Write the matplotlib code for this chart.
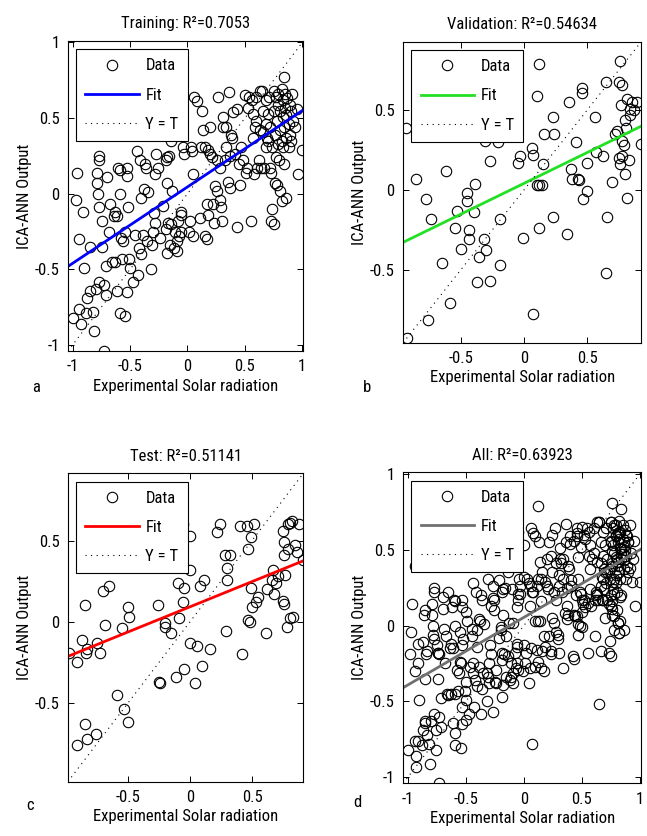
import numpy as np
import matplotlib
matplotlib.use("Agg")
import matplotlib.pyplot as plt
from matplotlib.lines import Line2D
from matplotlib import font_manager

# ---------------- data ----------------
train_x = [-1.00, -0.97, -0.96, -0.94, -0.93, -0.94, -0.91, -0.90, -0.88, -0.87,
           -0.85, -0.85, -0.82, -0.81, -0.80, -0.79, -0.79, -0.78, -0.77, -0.77,
           -0.77, -0.77, -0.74, -0.74, -0.73, -0.73, -0.71, -0.71, -0.70, -0.68,
           -0.67, -0.66, -0.64, -0.63, -0.63, -0.61, -0.61, -0.60, -0.59, -0.59,
           -0.59, -0.58, -0.57, -0.56, -0.54, -0.54, -0.53, -0.53, -0.53, -0.52,
           -0.51, -0.50, -0.47, -0.46, -0.44, -0.43, -0.42, -0.41, -0.40, -0.40,
           -0.39, -0.38, -0.37, -0.36, -0.35, -0.34, -0.32, -0.31, -0.30, -0.29,
           -0.28, -0.28, -0.27, -0.26, -0.24, -0.21, -0.19, -0.19, -0.18, -0.18,
           -0.18, -0.17, -0.16, -0.15, -0.14, -0.14, -0.13, -0.12, -0.11, -0.09,
           -0.09, -0.08, -0.07, -0.06, -0.06, -0.06, -0.05, -0.04, -0.03, 0.01,
           0.02, 0.03, 0.04, 0.05, 0.05, 0.06, 0.08, 0.11, 0.12, 0.13,
           0.14, 0.15, 0.15, 0.17, 0.17, 0.18, 0.18, 0.20, 0.20, 0.21,
           0.22, 0.23, 0.24, 0.26, 0.26, 0.27, 0.28, 0.28, 0.29, 0.30,
           0.31, 0.31, 0.33, 0.34, 0.34, 0.35, 0.36, 0.37, 0.37, 0.38,
           0.39, 0.40, 0.41, 0.43, 0.43, 0.45, 0.46, 0.47, 0.48, 0.50,
           0.51, 0.52, 0.53, 0.54, 0.55, 0.56, 0.57, 0.57, 0.58, 0.59,
           0.60, 0.60, 0.61, 0.62, 0.63, 0.63, 0.64, 0.65, 0.66, 0.66,
           0.67, 0.68, 0.68, 0.68, 0.69, 0.70, 0.70, 0.71, 0.72, 0.72,
           0.73, 0.73, 0.74, 0.74, 0.75, 0.75, 0.75, 0.76, 0.76, 0.77,
           0.77, 0.78, 0.78, 0.79, 0.79, 0.79, 0.80, 0.81, 0.81, 0.81,
           0.82, 0.82, 0.82, 0.83, 0.83, 0.83, 0.84, 0.84, 0.84, 0.85,
           0.85, 0.86, 0.86, 0.86, 0.87, 0.88, 0.88, 0.89, 0.89, 0.90,
           0.90, 0.91, 0.92, 0.94, 0.95, 0.96, 1.00]
train_y = [-0.82, -0.04, 0.14, -0.76, -0.86, -0.30, -0.12, -0.49, -0.79, -0.69,
           -0.35, -0.64, -0.78, -0.91, -0.63, 0.14, 0.07, 0.00, 0.25, -0.09,
           0.22, -0.58, -0.18, -0.35, -0.60, -1.04, -0.67, -0.48, 0.11, -0.25,
           -0.07, -0.45, -0.15, -0.45, -0.12, -0.64, -0.15, 0.17, 0.16, -0.79,
           0.00, -0.29, -0.43, -0.31, -0.81, -0.25, 0.17, 0.12, -0.65, -0.09,
           -0.43, -0.49, -0.58, -0.27, 0.28, -0.54, -0.36, 0.22, -0.40, -0.03,
           -0.27, 0.03, 0.20, 0.17, -0.31, 0.01, -0.50, -0.34, -0.25, -0.13,
           0.13, -0.19, 0.26, 0.17, -0.29, -0.08, 0.22, -0.23, 0.24, 0.07,
           -0.39, -0.19, 0.25, -0.34, -0.20, 0.35, 0.02, -0.36, -0.25, -0.31,
           -0.38, -0.18, -0.28, -0.14, -0.25, -0.12, 0.62, 0.31, 0.26, -0.25,
           -0.18, 0.31, 0.28, 0.13, -0.28, 0.64, 0.61, -0.16, 0.31, 0.55,
           0.42, 0.31, -0.28, -0.07, -0.30, 0.29, -0.14, 0.26, 0.44, 0.24,
           -0.07, -0.19, 0.05, 0.02, 0.22, 0.64, -0.04, 0.17, -0.09, -0.18,
           0.51, 0.44, 0.22, 0.31, 0.44, 0.08, 0.67, 0.25, 0.04, 0.39,
           0.37, 0.54, 0.26, 0.56, -0.22, 0.20, 0.06, 0.31, 0.22, 0.65,
           0.14, 0.17, 0.57, 0.64, -0.18, 0.62, 0.37, 0.53, 0.13, 0.44,
           0.64, 0.48, 0.17, 0.22, 0.68, 0.42, 0.17, 0.68, 0.55, 0.41,
           0.17, 0.31, 0.46, 0.62, 0.37, 0.35, 0.53, 0.64, 0.17, 0.44,
           -0.18, 0.14, -0.10, 0.31, 0.68, 0.55, -0.20, 0.39, 0.07, 0.64,
           0.24, 0.48, 0.06, 0.33, 0.66, 0.59, 0.22, 0.42, 0.02, 0.55,
           0.69, 0.35, -0.05, 0.62, 0.51, 0.31, 0.44, 0.20, 0.77, 0.66,
           0.57, 0.37, 0.52, -0.03, 0.63, 0.31, 0.46, 0.59, 0.39, 0.55,
           0.35, 0.66, 0.48, 0.44, 0.56, 0.13, 0.29]

val_x = [-0.94, -0.93, -0.86, -0.78, -0.74, -0.76, -0.62, -0.65, -0.59, -0.55,
         -0.53, -0.50, -0.45, -0.45, -0.44, -0.44, -0.40, -0.39, -0.37, -0.36,
         -0.32, -0.30, -0.31, -0.27, -0.27, -0.21, -0.19, -0.19, -0.05, -0.03,
         -0.01, 0.06, 0.07, 0.07, 0.10, 0.12, 0.10, 0.12, 0.14, 0.12,
         0.15, 0.16, 0.23, 0.24, 0.23, 0.34, 0.36, 0.37, 0.38, 0.41,
         0.43, 0.44, 0.46, 0.46, 0.47, 0.50, 0.50, 0.56, 0.57, 0.65,
         0.66, 0.65, 0.63, 0.70, 0.72, 0.74, 0.75, 0.76, 0.75, 0.76,
         0.77, 0.78, 0.78, 0.79, 0.80, 0.80, 0.81, 0.82, 0.82, 0.83,
         0.84, 0.84, 0.86, 0.87, 0.90, 0.93, 0.78]
val_y = [0.39, -0.93, 0.07, -0.06, -0.18, -0.82, 0.12, -0.46, -0.71, -0.24,
         -0.13, -0.37, -0.02, -0.07, -0.25, -0.31, -0.14, 0.04, -0.58, -0.42,
         -0.31, -0.38, 0.31, 0.18, -0.57, 0.30, -0.47, -0.18, 0.17, 0.21,
         -0.30, 0.26, 0.22, -0.78, 0.59, 0.79, 0.03, 0.03, 0.03, -0.24,
         0.16, 0.35, 0.46, 0.35, -0.17, -0.28, 0.55, 0.13, 0.07, 0.30,
         0.07, 0.06, 0.64, 0.61, -0.06, 0.17, -0.01, 0.46, 0.24, 0.68,
         -0.17, -0.52, 0.21, 0.05, 0.35, 0.37, 0.68, 0.81, 0.20, 0.16,
         0.53, 0.31, 0.66, 0.28, 0.10, 0.44, 0.39, -0.05, 0.57, 0.19,
         0.47, 0.51, 0.55, 0.50, 0.55, 0.29, 0.21]

test_x = [-0.98, -0.91, -0.91, -0.87, -0.85, -0.85, -0.84, -0.83, -0.83, -0.76,
          -0.75, -0.73, -0.70, -0.69, -0.65, -0.59, -0.55, -0.53, -0.50, -0.50,
          -0.49, -0.26, -0.25, -0.24, -0.20, -0.20, -0.15, -0.11, -0.10, -0.09,
          -0.06, -0.06, -0.05, -0.05, 0.00, 0.00, 0.00, 0.04, 0.06, 0.08,
          0.10, 0.11, 0.16, 0.22, 0.24, 0.29, 0.28, 0.32, 0.30, 0.30,
          0.40, 0.42, 0.47, 0.46, 0.47, 0.48, 0.49, 0.49, 0.50, 0.52,
          0.53, 0.55, 0.61, 0.62, 0.66, 0.67, 0.68, 0.69, 0.71, 0.75,
          0.75, 0.76, 0.76, 0.76, 0.77, 0.78, 0.79, 0.79, 0.81, 0.81,
          0.82, 0.83, 0.85, 0.86, 0.88, 0.91]
test_y = [-0.19, -0.25, -0.76, -0.11, -0.63, 0.10, -0.19, -0.72, -0.17, -0.69,
          -0.13, -0.19, 0.19, -0.02, 0.22, -0.45, -0.04, -0.54, -0.62, 0.09,
          0.03, 0.10, -0.37, -0.38, -0.01, -0.03, -0.07, -0.34, 0.24, 0.02,
          0.60, 0.12, 0.21, -0.29, 0.32, 0.53, -0.13, -0.38, -0.15, 0.22,
          -0.27, 0.26, -0.17, 0.55, 0.60, -0.06, 0.41, 0.41, 0.33, 0.26,
          0.59, -0.20, 0.45, 0.59, 0.01, 0.00, 0.21, 0.52, 0.09, 0.60,
          0.12, 0.15, -0.07, 0.20, 0.26, 0.32, 0.17, 0.24, 0.28, 0.13,
          0.56, 0.11, 0.49, 0.41, 0.29, -0.03, 0.60, 0.45, 0.61, 0.02,
          0.62, 0.03, 0.47, 0.43, 0.60, 0.38]

titles = ["Training: R²=0.7053", "Validation: R²=0.54634",
          "Test: R²=0.51141", "All: R²=0.63923"]
panel_letters = ["a", "b", "c", "d"]
fit_slope = [0.505, 0.386, 0.31, 0.446]
fit_intercept = [0.045, 0.041, 0.092, 0.054]
axis_limits = [(-1.04, 1.01), (-0.96, 0.93), (-0.985, 0.915), (-1.04, 1.01)]
ticks_full = [-1, -0.5, 0, 0.5, 1]
ticklabels_full = ["-1", "-0.5", "0", "0.5", "1"]
ticks_short = [-0.5, 0, 0.5]
ticklabels_short = ["-0.5", "0", "0.5"]
xlabel = "Experimental Solar radiation"
ylabel = "ICA-ANN Output"
legend_labels = ["Data", "Fit", "Y = T"]

# ---------------- style ----------------
avail = {f.name for f in font_manager.fontManager.ttflist}
condensed = [f for f in ["Liberation Sans Narrow", "DejaVu Sans Condensed",
                         "Roboto Condensed", "Open Sans Condensed"] if f in avail]
if condensed:
    fam = [condensed[0], "DejaVu Sans"]
    FS = 12
else:
    fam = [f for f in ["Liberation Sans", "DejaVu Sans"] if f in avail]
    FS = 10.5
plt.rcParams['font.family'] = fam

fit_colors = ["#0000ff", "#22e022", "#ff0000", "#707070"]
MS = 7.5

fig = plt.figure(figsize=(6.47, 8.36), dpi=100)
positions = [
    [0.105, 0.580, 0.364, 0.371],
    [0.623, 0.590, 0.368, 0.360],
    [0.105, 0.065, 0.364, 0.369],
    [0.623, 0.063, 0.368, 0.372],
]
letter_pos = [(0.056, 0.536), (0.567, 0.537), (0.046, 0.036), (0.553, 0.040)]

all_x = np.concatenate([train_x, val_x, test_x])
all_y = np.concatenate([train_y, val_y, test_y])
datasets = [(np.array(train_x), np.array(train_y)),
            (np.array(val_x), np.array(val_y)),
            (np.array(test_x), np.array(test_y)),
            (all_x, all_y)]

for i in range(4):
    ax = fig.add_axes(positions[i])
    x, y = datasets[i]
    lo, hi = axis_limits[i]
    ax.plot(x, y, linestyle='none', marker='o', markersize=MS,
            markerfacecolor='none', markeredgecolor='black', markeredgewidth=0.8)
    xx = np.array([lo, hi])
    ax.plot(xx, fit_slope[i] * xx + fit_intercept[i], color=fit_colors[i], lw=2.0)
    ax.plot(xx, xx, color='black', lw=0.8, linestyle=(0, (1, 4)))
    ax.set_xlim(lo, hi)
    ax.set_ylim(lo, hi)
    if i in (0, 3):
        ax.set_xticks(ticks_full); ax.set_xticklabels(ticklabels_full)
        ax.set_yticks(ticks_full); ax.set_yticklabels(ticklabels_full)
    else:
        ax.set_xticks(ticks_short); ax.set_xticklabels(ticklabels_short)
        ax.set_yticks(ticks_short); ax.set_yticklabels(ticklabels_short)
    ax.tick_params(direction='in', top=True, right=True, length=4, width=0.7,
                   labelsize=FS, pad=6)
    for s in ax.spines.values():
        s.set_linewidth(0.8)
    ax.set_title(titles[i], fontsize=FS, pad=9)
    ax.set_xlabel(xlabel, fontsize=FS, labelpad=3)
    ax.set_ylabel(ylabel, fontsize=FS, labelpad=2)
    handles = [Line2D([], [], linestyle='none', marker='o', markersize=MS,
                      markerfacecolor='none', markeredgecolor='black', markeredgewidth=0.8),
               Line2D([], [], color=fit_colors[i], lw=2.0),
               Line2D([], [], color='black', lw=0.8, linestyle=(0, (1, 4)))]
    leg = ax.legend(handles, legend_labels, loc='upper left', fontsize=FS,
                    frameon=True, fancybox=False, edgecolor='black', framealpha=1,
                    handlelength=3.2, handletextpad=0.4, labelspacing=0.85,
                    borderpad=0.55, borderaxespad=0.5)
    leg.get_frame().set_linewidth(0.8)
    fig.text(letter_pos[i][0], letter_pos[i][1], panel_letters[i], fontsize=FS,
             ha='center', va='center')

fig.savefig("out.png", dpi=100)
